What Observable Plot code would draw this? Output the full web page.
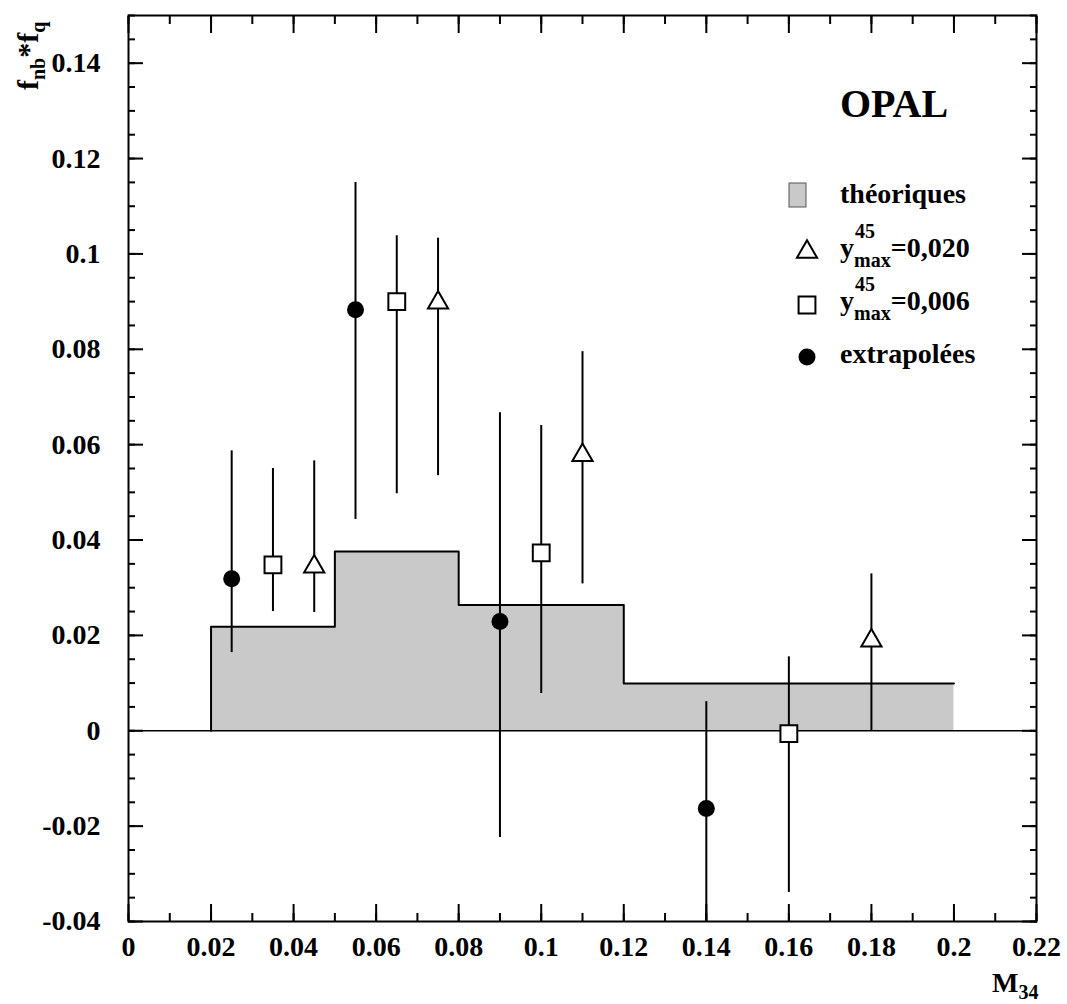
<!DOCTYPE html>
<html>
<head>
<meta charset="utf-8">
<script src="https://cdn.jsdelivr.net/npm/d3@7"></script>
<script src="https://cdn.jsdelivr.net/npm/@observablehq/plot@0.6"></script>
<style>
  html, body { margin: 0; padding: 0; background: #fff; }
  #chart svg { display: block; }
  #chart svg, #chart svg text, #chart svg tspan {
    font-family: "Liberation Serif", "Times New Roman", "DejaVu Serif", serif !important;
    font-weight: bold;
  }
</style>
</head>
<body>
<div id="chart"></div>
<script>
// Theoretical prediction: histogram bin edges and heights
const theoryEdges = [0.02, 0.05, 0.08, 0.12, 0.20];
const theoryValues = [0.0218, 0.0376, 0.0264, 0.0099];

// Measured points, y_max^45 = 0,020 (open triangles)
const triX = [0.045, 0.075, 0.11, 0.18];
const triY = [0.0344, 0.0898, 0.0578, 0.0189];
const triLo = [0.0248, 0.0535, 0.0308, 0.0];
const triHi = [0.0566, 0.1033, 0.0795, 0.0329];

// Measured points, y_max^45 = 0,006 (open squares)
const sqX = [0.035, 0.065, 0.10, 0.16];
const sqY = [0.0348, 0.0900, 0.0373, -0.0006];
const sqLo = [0.0250, 0.0497, 0.0078, -0.0339];
const sqHi = [0.0550, 0.1038, 0.0640, 0.0155];

// Extrapolated points (filled circles)
const extX = [0.025, 0.055, 0.09, 0.14];
const extY = [0.0319, 0.0883, 0.0229, -0.0163];
const extLo = [0.0164, 0.0443, -0.0224, -0.0400];
const extHi = [0.0587, 0.1150, 0.0667, 0.0061];

// Axis ticks and their labels
const xMajor = [0, 0.02, 0.04, 0.06, 0.08, 0.1, 0.12, 0.14, 0.16, 0.18, 0.2, 0.22];
const xTickLabels = ["0", "0.02", "0.04", "0.06", "0.08", "0.1", "0.12", "0.14", "0.16", "0.18", "0.2", "0.22"];
const xMinor = d3.range(0, 23).map(d => d / 100);
const yMajor = [-0.04, -0.02, 0, 0.02, 0.04, 0.06, 0.08, 0.1, 0.12, 0.14];
const yTickLabels = ["-0.04", "-0.02", "0", "0.02", "0.04", "0.06", "0.08", "0.1", "0.12", "0.14"];
const yMinor = d3.range(-40, 151, 5).map(d => d / 1000);

// Build tables for the marks
const points = (xs, ys, los, his) => xs.map((x, i) => ({x, y: ys[i], lo: los[i], hi: his[i]}));
const triangles = points(triX, triY, triLo, triHi);
const squares = points(sqX, sqY, sqLo, sqHi);
const extrapolated = points(extX, extY, extLo, extHi);
const allPoints = [...extrapolated, ...squares, ...triangles];

// Step outline: start from zero at the first edge, then each bin height, closing at the last edge
const theory = [{x: theoryEdges[0], y: 0}]
  .concat(theoryValues.map((v, i) => ({x: theoryEdges[i], y: v})))
  .concat([{x: theoryEdges[theoryEdges.length - 1], y: theoryValues[theoryValues.length - 1]}]);

const FONT = "Liberation Serif, Times New Roman, DejaVu Serif, serif";
const fmt = (ticks, labels) => d => labels[ticks.indexOf(d)];

const chart = Plot.plot({
  width: 1067,
  height: 1004,
  marginLeft: 128,
  marginRight: 31,
  marginTop: 15,
  marginBottom: 83,
  style: {fontFamily: FONT, fontWeight: "bold", fontSize: "28px", color: "black", background: "white"},
  x: {domain: [0, 0.22]},
  y: {domain: [-0.04, 0.15]},
  marks: [
    Plot.areaY(theory, {x: "x", y: "y", curve: "step-after", fill: "#c9c9c9"}),
    Plot.lineY(theory, {x: "x", y: "y", curve: "step-after", stroke: "black", strokeWidth: 2}),
    Plot.ruleY([0], {stroke: "black", strokeWidth: 1.6}),
    Plot.ruleX(allPoints, {x: "x", y1: "lo", y2: "hi", stroke: "black", strokeWidth: 2}),
    Plot.dot(extrapolated, {x: "x", y: "y", r: 8.5, fill: "black", stroke: "none"}),
    Plot.dot(squares, {x: "x", y: "y", symbol: "square", r: 9.5, fill: "white", stroke: "black", strokeWidth: 2}),
    Plot.dot(triangles, {x: "x", y: "y", symbol: "triangle", r: 7.5, fill: "white", stroke: "black", strokeWidth: 2}),

    // inward ticks on all four sides
    Plot.axisX({anchor: "bottom", ticks: xMajor, tickSize: -17, fill: "none", label: null, strokeWidth: 2}),
    Plot.axisX({anchor: "bottom", ticks: xMinor, tickSize: -8, fill: "none", label: null, strokeWidth: 2}),
    Plot.axisX({anchor: "top", ticks: xMajor, tickSize: -17, fill: "none", label: null, strokeWidth: 2}),
    Plot.axisX({anchor: "top", ticks: xMinor, tickSize: -8, fill: "none", label: null, strokeWidth: 2}),
    Plot.axisY({anchor: "left", ticks: yMajor, tickSize: -15, fill: "none", label: null, strokeWidth: 2}),
    Plot.axisY({anchor: "left", ticks: yMinor, tickSize: -7, fill: "none", label: null, strokeWidth: 2}),
    Plot.axisY({anchor: "right", ticks: yMajor, tickSize: -15, fill: "none", label: null, strokeWidth: 2}),
    Plot.axisY({anchor: "right", ticks: yMinor, tickSize: -7, fill: "none", label: null, strokeWidth: 2}),

    // tick labels
    Plot.axisX({anchor: "bottom", ticks: xMajor, tickSize: 0, tickPadding: 15, tickFormat: fmt(xMajor, xTickLabels), label: null}),
    Plot.axisY({anchor: "left", ticks: yMajor, tickSize: 0, tickPadding: 28, tickFormat: fmt(yMajor, yTickLabels), label: null}),

    Plot.frame({stroke: "black", strokeWidth: 2})
  ]
});

document.getElementById("chart").appendChild(chart);

// Titles, experiment name and legend with sub/superscripts
const svg = d3.select(chart);
const g = svg.append("g")
  .attr("font-family", FONT)
  .attr("font-weight", "bold")
  .attr("text-anchor", "start")
  .attr("fill", "black");

// y-axis title: f_nb * f_q
const yt = g.append("text")
  .attr("transform", "translate(38,90) rotate(-90)")
  .attr("font-size", 30);
yt.append("tspan").text("f");
yt.append("tspan").attr("font-size", 20).attr("dy", 7).text("nb");
yt.append("tspan").attr("dy", -7).text("*f");
yt.append("tspan").attr("font-size", 20).attr("dy", 7).text("q");

// x-axis title: M_34
const xt = g.append("text").attr("x", 992).attr("y", 992).attr("font-size", 28);
xt.append("tspan").text("M");
xt.append("tspan").attr("font-size", 20).attr("dy", 7).text("34");

// experiment name
g.append("text").attr("x", 840).attr("y", 117).attr("font-size", 40).text("OPAL");

// legend
g.append("rect").attr("x", 789).attr("y", 183).attr("width", 17).attr("height", 24)
  .attr("fill", "#c9c9c9").attr("stroke", "#555").attr("stroke-width", 1);
g.append("text").attr("x", 840).attr("y", 203).attr("font-size", 28).text("théoriques");

const legendSym = (type, r, cx, cy, fill) => g.append("path")
  .attr("d", d3.symbol(type, r * r * Math.PI)())
  .attr("transform", `translate(${cx},${cy})`)
  .attr("fill", fill)
  .attr("stroke", fill === "black" ? "none" : "black")
  .attr("stroke-width", 2);

const ymaxEntry = (baseline, value) => {
  g.append("text").attr("x", 855).attr("y", baseline - 19).attr("font-size", 20).text("45");
  const t = g.append("text").attr("x", 840).attr("y", baseline).attr("font-size", 28);
  t.append("tspan").text("y");
  t.append("tspan").attr("font-size", 20).attr("dy", 10).text("max");
  t.append("tspan").attr("dy", -10).text(value);
};

legendSym(d3.symbolTriangle, 7.5, 807, 252, "white");
ymaxEntry(257, "=0,020");
legendSym(d3.symbolSquare, 9.5, 807, 305, "white");
ymaxEntry(310, "=0,006");
legendSym(d3.symbolCircle, 8.5, 807, 357, "black");
g.append("text").attr("x", 840).attr("y", 363).attr("font-size", 28).text("extrapolées");
</script>
</body>
</html>
